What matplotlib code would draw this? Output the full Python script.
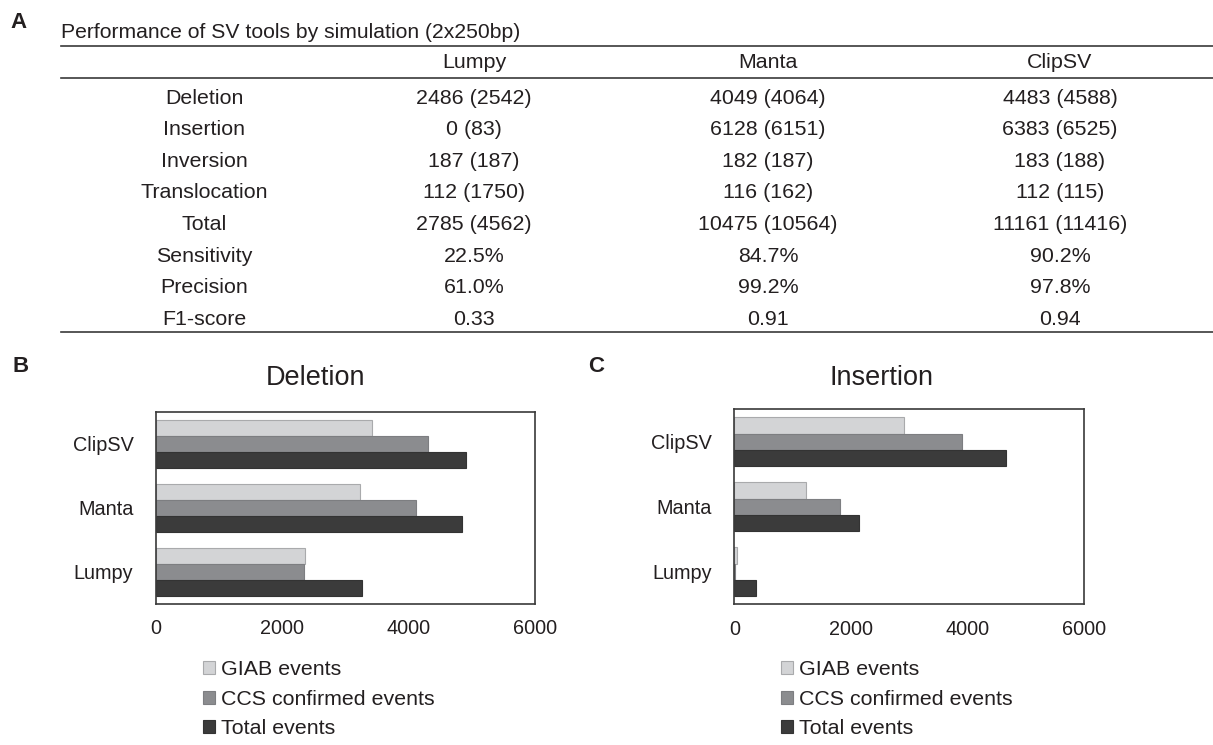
import matplotlib
matplotlib.use("Agg")
import matplotlib.pyplot as plt
from matplotlib.lines import Line2D
import numpy as np

plt.rcParams['font.family'] = ['Liberation Sans', 'DejaVu Sans']

# ---------------- data ----------------
table_title = "Performance of SV tools by simulation (2x250bp)"
table_columns = ["Lumpy", "Manta", "ClipSV"]
table_rows = ["Deletion", "Insertion", "Inversion", "Translocation",
              "Total", "Sensitivity", "Precision", "F1-score"]
lumpy_vals = ["2486 (2542)", "0 (83)", "187 (187)", "112 (1750)",
              "2785 (4562)", "22.5%", "61.0%", "0.33"]
manta_vals = ["4049 (4064)", "6128 (6151)", "182 (187)", "116 (162)",
              "10475 (10564)", "84.7%", "99.2%", "0.91"]
clipsv_vals = ["4483 (4588)", "6383 (6525)", "183 (188)", "112 (115)",
               "11161 (11416)", "90.2%", "97.8%", "0.94"]

tools = ["Lumpy", "Manta", "ClipSV"]
series_names = ["GIAB events", "CCS confirmed events", "Total events"]
deletion_giab = [2367, 3233, 3427]
deletion_ccs = [2347, 4124, 4304]
deletion_total = [3259, 4847, 4910]
insertion_giab = [40, 1235, 2916]
insertion_ccs = [8, 1818, 3911]
insertion_total = [367, 2144, 4660]
x_ticks = [0, 2000, 4000, 6000]

# ---------------- figure ----------------
W, H = 1213, 745
fig = plt.figure(figsize=(W / 100, H / 100), dpi=100)
TXT = "#231f20"


def fx(px):
    return px / W


def fy(py):
    return 1 - py / H


# ---- Panel A: table ----
fig.text(fx(10), fy(23), "A", fontsize=16, fontweight="bold", color=TXT,
         ha="left", va="center")
fig.text(fx(61), fy(33), table_title, fontsize=15.2, color=TXT,
         ha="left", va="center")
for yline in (46, 78, 332):
    fig.add_artist(Line2D([fx(61), fx(1213)], [fy(yline), fy(yline)],
                          color="#3a3a3a", lw=1.2, transform=fig.transFigure))

col_x = [474, 768, 1060]
for cx, name in zip(col_x, table_columns):
    fig.text(fx(cx), fy(63), name, fontsize=15.4, color=TXT,
             ha="center", va="center")

row_y0, row_dy = 98, 31.6
for i, rname in enumerate(table_rows):
    y = row_y0 + i * row_dy
    fig.text(fx(204), fy(y), rname, fontsize=15.4, color=TXT,
             ha="center", va="center")
    for cx, vals in zip(col_x, [lumpy_vals, manta_vals, clipsv_vals]):
        fig.text(fx(cx), fy(y), vals[i], fontsize=15.4, color=TXT,
                 ha="center", va="center")

# ---- Panels B & C: bar charts ----
colors = ["#d3d4d6", "#8b8c8f", "#3b3b3b"]
edges = ["#a9aaac", "#7d7e81", "#333333"]


def bar_panel(left, right, top, bottom, title, title_xy, letter, letter_xy,
              giab, ccs, total, legend_x):
    ax = fig.add_axes([fx(left), fy(bottom), fx(right - left),
                       (bottom - top) / H])
    y = np.arange(len(tools))
    h = 0.25
    handles = []
    for off, vals, c, ec, lab in zip([h, 0, -h], [giab, ccs, total],
                                     colors, edges, series_names):
        b = ax.barh(y + off, vals, height=h, color=c, edgecolor=ec,
                    linewidth=0.8, label=lab)
        handles.append(b)
    ax.set_xlim(0, 6000)
    ax.set_ylim(-0.5, 2.5)
    ax.set_xticks(x_ticks)
    ax.set_xticklabels([str(t) for t in x_ticks])
    ax.set_yticks(y)
    ax.set_yticklabels(tools)
    ax.tick_params(axis="both", length=0, labelsize=14.3, colors=TXT)
    ax.tick_params(axis="x", pad=11)
    ax.tick_params(axis="y", pad=16)
    for s in ax.spines.values():
        s.set_color("#3a3a3a")
        s.set_linewidth(1.2)
    fig.text(fx(title_xy[0]), fy(title_xy[1]), title, fontsize=19.5,
             color=TXT, ha="center", va="center")
    fig.text(fx(letter_xy[0]), fy(letter_xy[1]), letter, fontsize=16,
             fontweight="bold", color=TXT, ha="left", va="center")
    leg = ax.legend(handles=handles, loc="upper left",
                    bbox_to_anchor=(fx(legend_x), fy(660)),
                    bbox_transform=fig.transFigure, frameon=False,
                    fontsize=15.4, handlelength=0.55, handleheight=0.55,
                    handletextpad=0.3, labelspacing=0.5, borderpad=0,
                    borderaxespad=0)
    for t in leg.get_texts():
        t.set_color(TXT)
    return ax


bar_panel(155.7, 535, 411.7, 604, "Deletion", (316, 378), "B", (13, 366),
          deletion_giab, deletion_ccs, deletion_total, 203)
bar_panel(734.3, 1084, 409.3, 604.3, "Insertion", (882, 378), "C", (588, 367),
          insertion_giab, insertion_ccs, insertion_total, 781)

fig.savefig("out.png", dpi=100, facecolor="white")
